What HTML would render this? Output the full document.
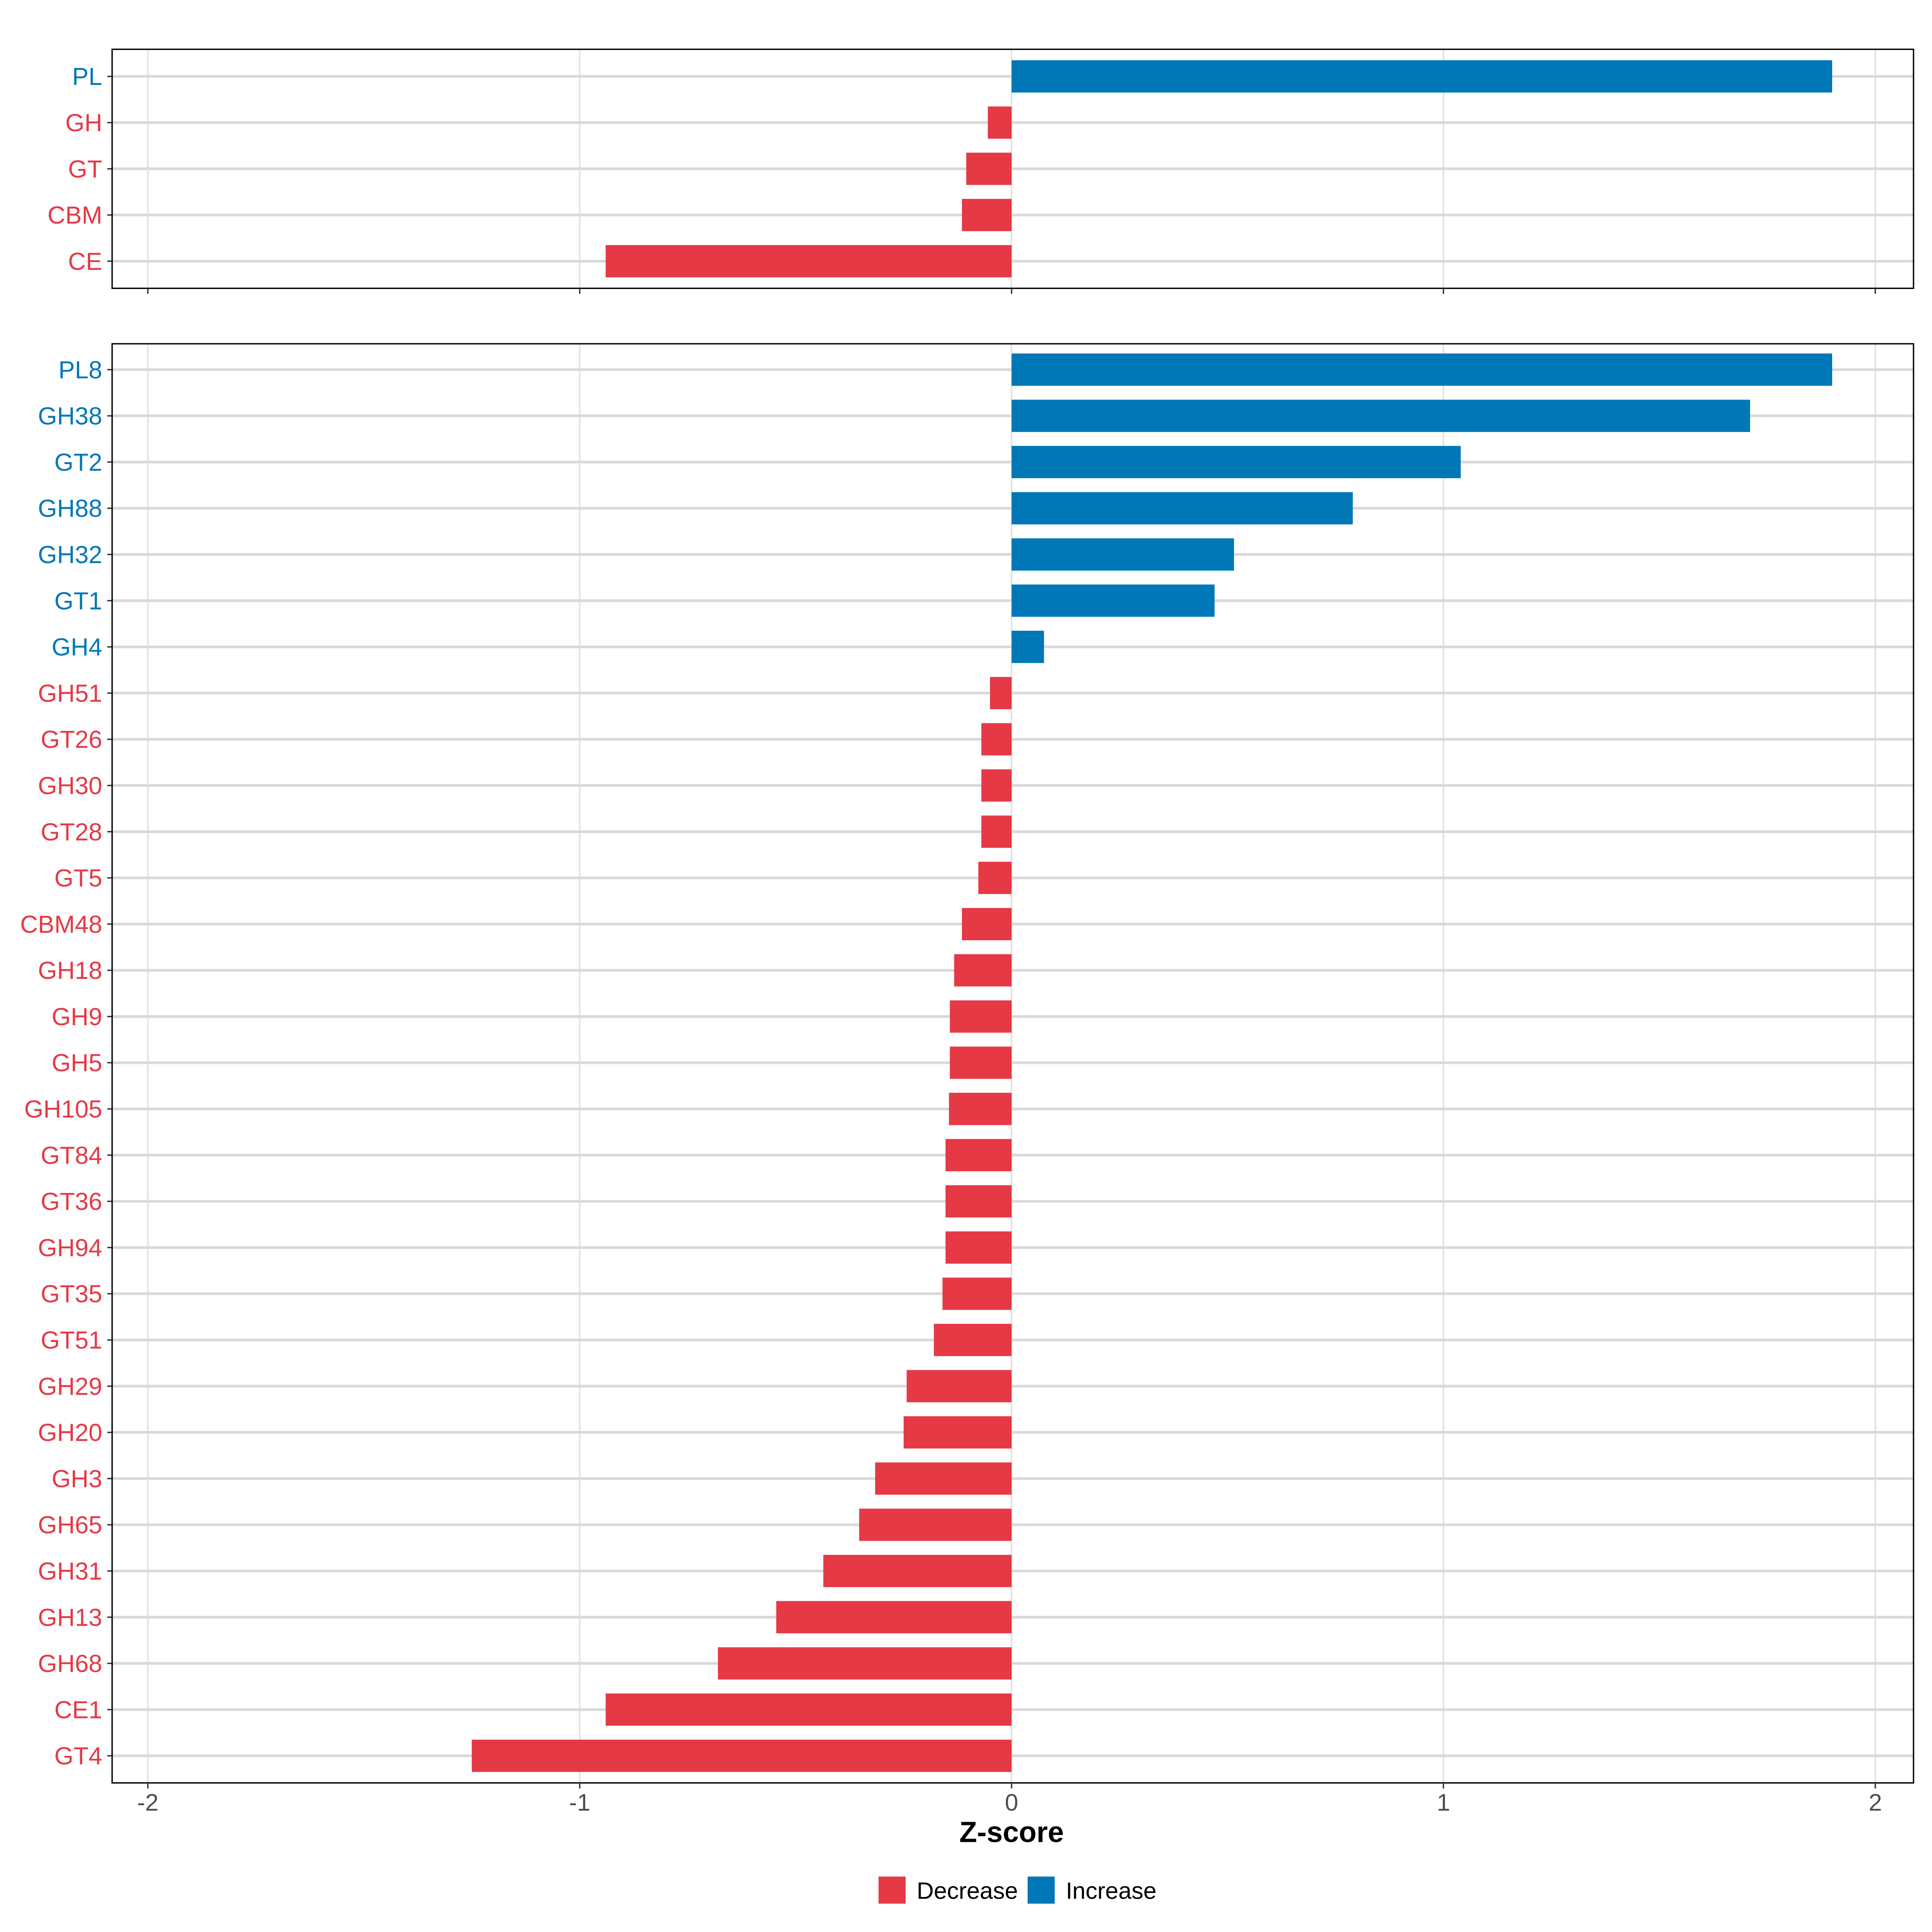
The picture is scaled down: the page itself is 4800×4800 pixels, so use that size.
<!DOCTYPE html>
<html><head><meta charset="utf-8"><style>
html,body{margin:0;padding:0;background:#fff}
svg{display:block}
text{font-family:"Liberation Sans",Arial,sans-serif}
</style></head><body>
<svg id="chart" width="4800" height="4800" viewBox="0 0 1568 1568" xmlns="http://www.w3.org/2000/svg"></svg>
<script>
const topCats = ["PL","GH","GT","CBM","CE"];
const topVals = [1.90,-0.055,-0.105,-0.115,-0.94];
const botCats = ["PL8","GH38","GT2","GH88","GH32","GT1","GH4","GH51","GT26","GH30","GT28","GT5","CBM48","GH18","GH9","GH5","GH105","GT84","GT36","GH94","GT35","GT51","GH29","GH20","GH3","GH65","GH31","GH13","GH68","CE1","GT4"];
const botVals = [1.90,1.71,1.04,0.79,0.515,0.47,0.075,-0.05,-0.07,-0.07,-0.07,-0.077,-0.115,-0.133,-0.143,-0.143,-0.145,-0.153,-0.153,-0.153,-0.16,-0.18,-0.243,-0.25,-0.316,-0.353,-0.436,-0.545,-0.68,-0.94,-1.25];
const xTicks = [-2,-1,0,1,2];

const svg = document.getElementById('chart');
const NS = 'http://www.w3.org/2000/svg';
const RED = '#E63946', BLUE = '#0077B6';
function x(v){ return 821 + v*350.5; }
function mk(tag, attrs, parent){
  const e = document.createElementNS(NS, tag);
  for (const k in attrs) e.setAttribute(k, attrs[k]);
  (parent||svg).appendChild(e);
  return e;
}
function panel(name, y0, y1, firstRow, cats, vals, showLabels){
  const g = mk('g', {});
  
  
  const y = i => firstRow + i*37.5;
  xTicks.forEach(t => {
    const l = mk('line', {x1:x(t), x2:x(t), y1:y0, y2:y1, stroke:'#dedede', 'stroke-width':1.1}, g);
    
    
  });
  cats.forEach((c,i) => {
    const l = mk('line', {x1:91, x2:1553, y1:y(i), y2:y(i), stroke:'#d9d9d9', 'stroke-width':2.2}, g);
    
    
  });
  cats.forEach((c,i) => {
    const v = vals[i];
    const r = mk('rect', {x:Math.min(x(0),x(v)), y:y(i)-13.1, width:Math.abs(x(v)-x(0)), height:26.2, fill: v>=0?BLUE:RED}, g);
    
    
    const t = mk('text', {x:83, y:y(i)+7, 'text-anchor':'end', 'font-size':20, fill: v>=0?BLUE:RED}, g);
    t.textContent = c;
    
    
    mk('line', {x1:87, x2:91, y1:y(i), y2:y(i), stroke:'#333', 'stroke-width':1.1}, g);
  });
  const f = mk('rect', {x:91, y:y0, width:1462, height:y1-y0, fill:'none', stroke:'#000', 'stroke-width':1.1}, g);
  
  
  xTicks.forEach(t => {
    mk('line', {x1:x(t), x2:x(t), y1:y1, y2:y1+4.5, stroke:'#333', 'stroke-width':1.1}, g);
    if (showLabels){
      const lt = mk('text', {x:x(t), y:y1+22.5, 'text-anchor':'middle', 'font-size':19.5, fill:'#4d4d4d'}, g);
      lt.textContent = String(t);
      
      
    }
  });
}
panel('top-panel', 40, 234, 62, topCats, topVals, false);
panel('bottom-panel', 279, 1447, 300, botCats, botVals, true);

const xt = mk('text', {x:821, y:1495, 'text-anchor':'middle', 'font-size':23.5, 'font-weight':'bold', fill:'#000'});
xt.textContent = 'Z-score';



const lg = mk('g', {});


const legendLabels = ['Decrease','Increase'];
const legendColors = [RED, BLUE];
const legendX = [713, 834];
legendLabels.forEach((lab,i) => {
  const r = mk('rect', {x:legendX[i], y:1523, width:22, height:22, fill:legendColors[i]}, lg);
  
  
  const t = mk('text', {x:legendX[i]+31, y:1541, 'font-size':19.2, fill:'#000'}, lg);
  t.textContent = lab;
  
  
});
</script>
</body></html>
